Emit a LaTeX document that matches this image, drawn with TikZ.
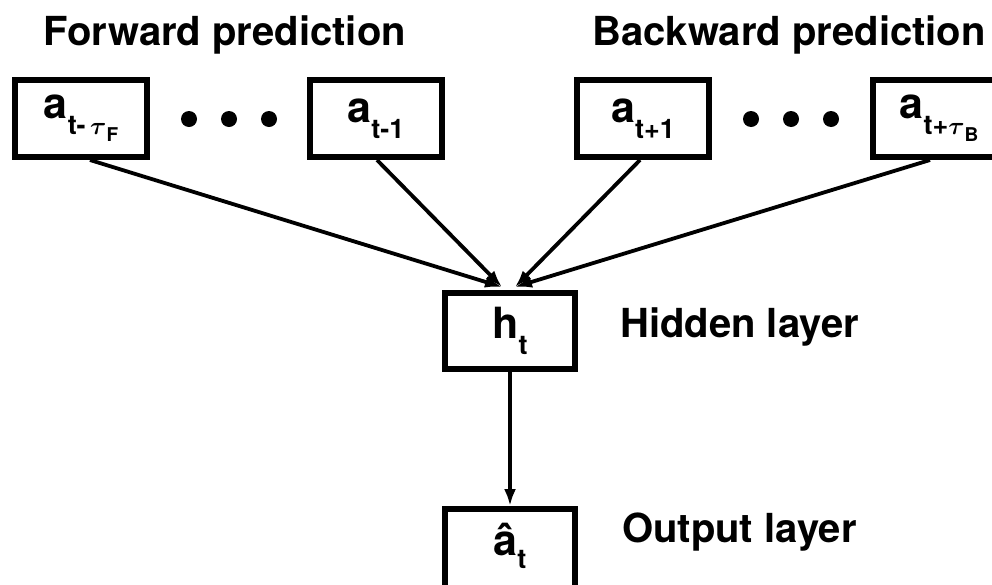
\documentclass[tikz,border=0pt]{standalone}
\usepackage{amsmath,bm}
\usepackage{fontspec}
\setmainfont{TeX Gyre Heros}
\usetikzlibrary{arrows.meta}
\newcommand{\subt}[1]{\raisebox{-16pt}{\fontsize{27}{27}\selectfont #1}}
\newcommand{\subsub}[1]{\raisebox{-7pt}{\fontsize{19}{19}\selectfont #1}}
\begin{document}
\begin{tikzpicture}[x=1pt,y=-1pt,
  cell/.style={draw, line width=6pt, minimum width=132pt, minimum height=77pt, inner sep=0pt,
    font=\bfseries\fontsize{43}{43}\selectfont},
  dot/.style={circle, fill, inner sep=0pt, minimum size=16pt},
  lab/.style={inner sep=0pt, font=\bfseries\fontsize{40}{40}\selectfont},
  arr/.style={line width=3.8pt, -{Latex[length=17pt,width=12pt]}}]
\useasboundingbox (0,0) rectangle (992,584);
% titles
\node[lab, anchor=base west] (tf) at (43,45) {Forward prediction};
\node[lab, anchor=base west] (tb) at (592,45) {Backward prediction};
% input boxes
\node[cell] (b1) at (81,118.5) {a\subt{t-\,$\boldsymbol{\tau}$\subsub{F}}};
\node[cell] (b2) at (376,118.5) {a\subt{t-1}};
\node[cell] (b3) at (643,118.5) {a\subt{t+1}};
\node[cell] (b4) at (939,118.5) {a\subt{t+$\boldsymbol{\tau}$\subsub{B}}};
% dots
\node[dot] (d1) at (189,119) {};
\node[dot] (d2) at (229,119) {};
\node[dot] (d3) at (269,119) {};
\node[dot] (d4) at (751,119) {};
\node[dot] (d5) at (791,119) {};
\node[dot] (d6) at (831,119) {};
% hidden and output
\node[cell, minimum width=130pt, minimum height=76pt] (h) at (510,331) {h\subt{t}};
\node[cell, minimum width=130pt, minimum height=82pt] (o) at (510,550) {};
\node[inner sep=0pt, font=\bfseries\fontsize{43}{43}\selectfont, anchor=base] (ot) at (510,555) {\^{a}\raisebox{-13pt}{\fontsize{27}{27}\selectfont t}};
\node[lab, anchor=base west] (hl) at (620,337) {Hidden layer};
\node[lab, anchor=base west] (ol) at (622,542) {Output layer};
% connectors
\coordinate (tl) at (502,287);
\coordinate (tr) at (515,287);
\draw[arr] ([xshift=9pt]b1.south) -- (tl);
\draw[arr] ([xshift=1pt]b2.south) -- (tl);
\draw[arr] ([xshift=-3pt]b3.south) -- (tr);
\draw[arr] ([xshift=-9pt]b4.south) -- (tr);
\draw[arr] (h.south) -- (o.north);
\end{tikzpicture}
\end{document}
